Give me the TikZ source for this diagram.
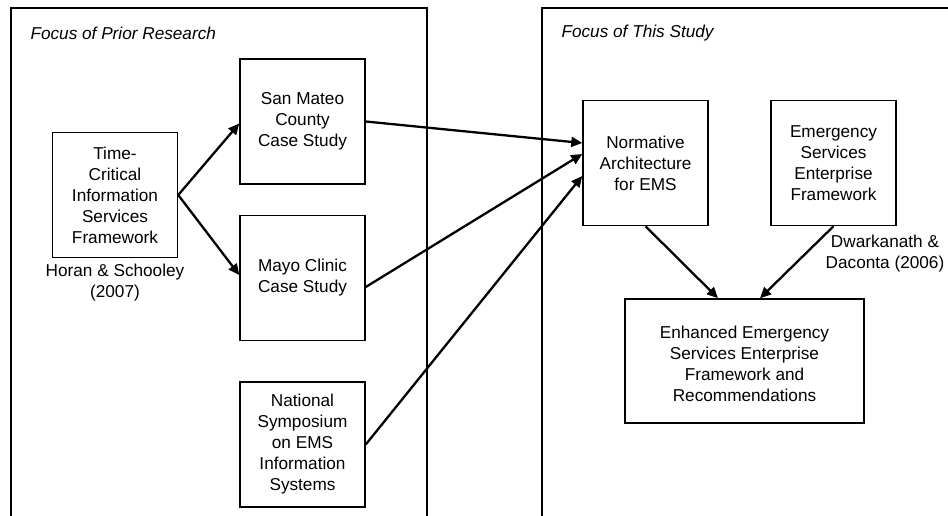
\documentclass[tikz,border=0pt]{standalone}
\usepackage{fontspec}
\setmainfont{Liberation Sans}
\usetikzlibrary{arrows.meta}

\begin{document}
\begin{tikzpicture}[
      x=1pt, y=-1pt,
      >={Triangle[length=11pt, width=10pt]},
      every node/.style={font=\fontsize{17.2pt}{21pt}\selectfont, align=center},
      block/.style={rectangle, draw, line width=1.5pt, minimum width=125pt,
            minimum height=125pt, inner sep=2pt},
      panel/.style={line width=1.4pt},
      heading/.style={anchor=west, font=\fontsize{17.2pt}{21pt}\selectfont\itshape},
      line/.style={->, line width=2.3pt}
]
\useasboundingbox (0,0) rectangle (948,516);

% the two regions
\draw[panel] (11,516) -- (11,8) -- (427,8) -- (427,516);
\draw[panel] (542,516) -- (542,8) -- (948,8);
\node[heading] (prior) at (27,33) {Focus of Prior Research};
\node[heading] (this) at (558,33) {Focus of This Study};

% prior research
\node[block] (tcis) at (115,195) {Time-\\Critical\\Information\\Services\\Framework};
\node (horan) at (115,283) {Horan \& Schooley\\(2007)};
\node[block] (sanmateo) at (302.5,121.5) {San Mateo\\County\\Case Study};
\node[block] (mayo) at (302.5,278) {Mayo Clinic\\Case Study};
\node[block] (symposium) at (302.5,444.5) {National\\Symposium\\on EMS\\Information\\Systems};

% this study
\node[block] (normative) at (645.5,163) {Normative\\Architecture\\for EMS};
\node[block] (esef) at (833.5,163) {Emergency\\Services\\Enterprise\\Framework};
\node (dwarkanath) at (885,254) {Dwarkanath \&\\Daconta (2006)};
\node[block, minimum width=239pt, minimum height=124pt] (enhanced) at (744.5,361)
      {\smash{\raisebox{-9.3pt}{\begin{tabular}{@{}c@{}}Enhanced Emergency\\Services Enterprise\\
       Framework and\\Recommendations\end{tabular}}}};

\draw[line] (tcis.east) -- ([yshift=-2pt]sanmateo.west);
\draw[line] (tcis.east) -- ([yshift=3pt]mayo.west);
\draw[line] (sanmateo.east) -- ([yshift=20pt]normative.west);
\draw[line] ([yshift=-9pt]mayo.east) -- ([yshift=9pt]normative.west);
\draw[line] (symposium.east) -- ([yshift=-13pt]normative.west);
\draw[line] (normative.south) -- ([xshift=-26.5pt]enhanced.north);
\draw[line] (esef.south) -- ([xshift=15.5pt]enhanced.north);
\end{tikzpicture}
\end{document}
